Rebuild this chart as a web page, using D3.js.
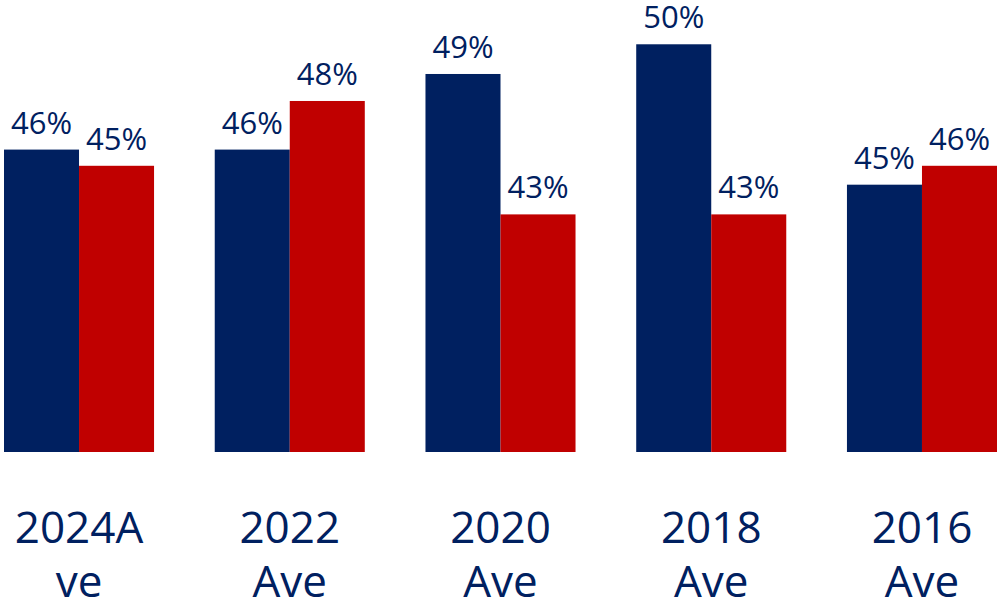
<!DOCTYPE html>
<html>
<head>
<meta charset="utf-8">
<script src="https://cdn.jsdelivr.net/npm/d3@7"></script>
<style>
    body { margin: 0; background: #fff; }
    svg text { font-family: "Open Sans", sans-serif; fill: #002060; }
</style>
</head>
<body>
<div id="chart"></div>
<script>
// data
const categories = ["2024Ave", "2022Ave", "2020Ave", "2018Ave", "2016Ave"];
const categoryLines = [["2024A", "ve"], ["2022", "Ave"], ["2020", "Ave"], ["2018", "Ave"], ["2016", "Ave"]];
const blueValues = [46.2, 46.2, 49.0, 50.1, 44.9];
const redValues = [45.6, 48.0, 43.8, 43.8, 45.6];
const blueLabels = ["46%", "46%", "49%", "50%", "45%"];
const redLabels = ["45%", "48%", "43%", "43%", "46%"];

const width = 1000, height = 605;
const baseline = 452;

const svg = d3.select("#chart")
    .append("svg")
    .attr("width", width)
    .attr("height", height);

const x = d3.scaleBand()
    .domain(categories)
    .range([4, 997])
    .paddingInner(0.288)
    .paddingOuter(0);

const sub = d3.scaleBand()
    .domain(["blue", "red"])
    .range([0, x.bandwidth()]);

const y = d3.scaleLinear()
    .domain([35, 51.74])
    .range([baseline, 0]);

const series = [
    {key: "blue", color: "#002060", values: blueValues, labels: blueLabels},
    {key: "red", color: "#C00000", values: redValues, labels: redLabels}
];

series.forEach(s => {
    const g = svg.append("g");
    g.selectAll("rect")
        .data(s.values)
        .join("rect")
        .attr("x", (d, i) => x(categories[i]) + sub(s.key))
        .attr("y", d => y(d))
        .attr("width", sub.bandwidth())
        .attr("height", d => baseline - y(d))
        .attr("fill", s.color);

    g.selectAll("text")
        .data(s.values)
        .join("text")
        .attr("x", (d, i) => x(categories[i]) + sub(s.key) + sub.bandwidth() / 2)
        .attr("y", d => y(d) - 16)
        .attr("text-anchor", "middle")
        .attr("font-size", 31)
        .text((d, i) => s.labels[i]);
});

// category labels, two lines each
const cat = svg.append("g")
    .selectAll("text")
    .data(categories)
    .join("text")
    .attr("text-anchor", "middle")
    .attr("font-size", 44)
    .attr("x", d => x(d) + x.bandwidth() / 2)
    .attr("y", 543);

cat.selectAll("tspan")
    .data((d, i) => categoryLines[i])
    .join("tspan")
    .attr("x", function() { return this.parentNode.getAttribute("x"); })
    .attr("dy", (d, i) => i === 0 ? 0 : 54)
    .text(d => d);
</script>
</body>
</html>
